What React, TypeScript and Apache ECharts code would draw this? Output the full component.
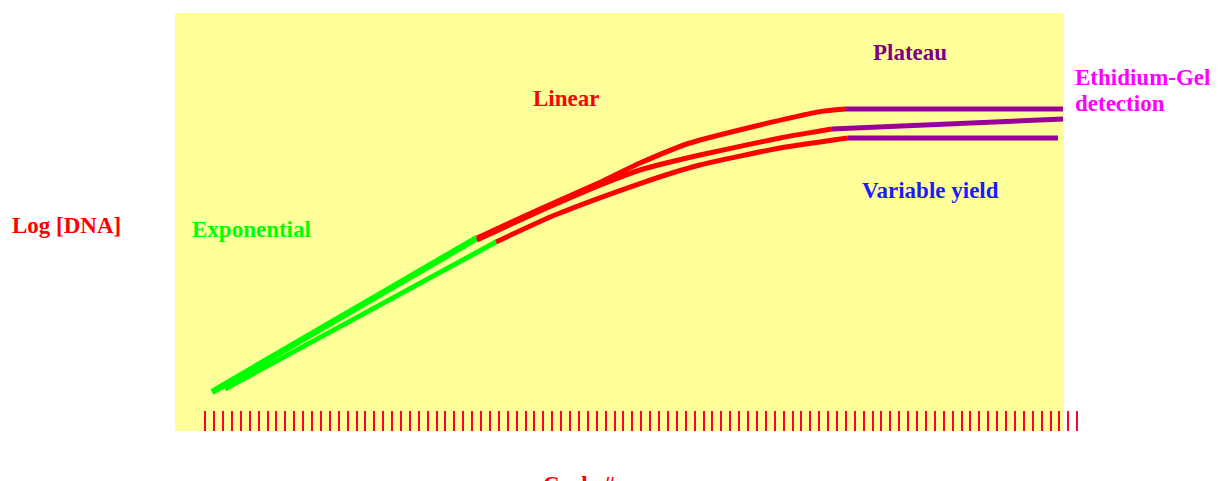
import React, { useEffect, useRef } from "react";
import * as echarts from "echarts";

// x: cycle number (tick every cycle), y: log[DNA] in arbitrary units (0-100)
const cycleTicks = { min: 0, max: 98, step: 1 };

const topExp: [number, number][] = [[0.79, 9.33], [30.57, 46.17]];
const topLin: [number, number][] = [
  [30.57, 46.17], [37.65, 53.11], [44.73, 59.81], [48.89, 64.11],
  [54.51, 68.9], [62.37, 73.21], [69.12, 76.4], [71.93, 77.03],
];
const topPlat: [number, number][] = [[71.93, 77.03], [96.43, 77.03]];

const midLin: [number, number][] = [
  [30.57, 45.69], [37.65, 52.63], [44.73, 59.09], [48.89, 62.44],
  [55.63, 66.03], [64.62, 70.1], [69.12, 71.77], [70.47, 72.25],
];
const midPlat: [number, number][] = [[70.47, 72.25], [96.43, 74.64]];

const lowExp: [number, number][] = [[2.25, 10.05], [32.7, 45.22]];
const lowLin: [number, number][] = [
  [32.7, 45.22], [39.33, 51.67], [48.89, 59.2],
  [55.63, 63.64], [64.62, 67.7], [72.26, 70.1],
];
const lowPlat: [number, number][] = [[72.26, 70.1], [95.86, 70.1]];

const GREEN = "#00ff00";
const RED = "#ff0000";
const PURPLE = "#990099";
const FONT = '"Liberation Serif", "Times New Roman", serif';

function seg(data: [number, number][], color: string, width: number, z: number) {
  return {
    type: "line",
    data,
    showSymbol: false,
    symbol: "none",
    smooth: 0.2,
    z,
    lineStyle: { color, width, cap: "butt" },
    silent: true,
  };
}

function label(text: string, x: number, y: number, fill: string, align = "left") {
  return {
    type: "text",
    x,
    y,
    z: 10,
    style: {
      text,
      fill,
      fontFamily: FONT,
      fontWeight: "bold",
      fontSize: 23,
      textAlign: align,
      align,
      textVerticalAlign: "middle",
      verticalAlign: "middle",
    },
  };
}

export default function App() {
  const ref = useRef<HTMLDivElement>(null);
  useEffect(() => {
    if (!ref.current) return;
    const chart = echarts.init(ref.current, undefined, { renderer: "svg" });
    chart.setOption({
      animation: false,
      backgroundColor: "#ffffff",
      grid: { left: 205, right: 150, top: 13, bottom: 50, containLabel: false },
      xAxis: {
        type: "value",
        min: cycleTicks.min,
        max: cycleTicks.max,
        interval: cycleTicks.step,
        axisLine: { show: false },
        axisLabel: { show: false },
        splitLine: { show: false },
        axisTick: { show: true, inside: true, length: 20, lineStyle: { color: "#ff0033", width: 2 } },
      },
      yAxis: { type: "value", min: 0, max: 100, show: false },
      graphic: [
        {
          type: "rect",
          z: -10,
          shape: { x: 175, y: 13, width: 889, height: 418 },
          style: { fill: "#ffff99" },
          silent: true,
        },
        label("Log [DNA]", 12, 225, RED),
        label("Exponential", 192, 229, GREEN),
        label("Linear", 533, 98, RED),
        label("Plateau", 873, 52, "#800080"),
        label("Variable yield", 862, 190, "#1a1aff"),
        label("Ethidium-Gel", 1075, 77, "#ff00ff"),
        label("detection", 1075, 103, "#ff00ff"),
        label("Cycle #", 579, 484, RED, "center"),
      ],
      series: [
        seg(topExp, GREEN, 6.5, 2),
        seg(lowExp, GREEN, 5, 2),
        seg(topLin, RED, 5, 3),
        seg(midLin, RED, 5, 3),
        seg(lowLin, RED, 5, 3),
        seg(topPlat, PURPLE, 5, 4),
        seg(midPlat, PURPLE, 5, 4),
        seg(lowPlat, PURPLE, 5, 4),
      ],
    });
    return () => chart.dispose();
  }, []);
  return (
    <div
      ref={ref}
      style={{ position: "fixed", left: 0, top: 0, width: 1227, height: 481 }}
    />
  );
}
